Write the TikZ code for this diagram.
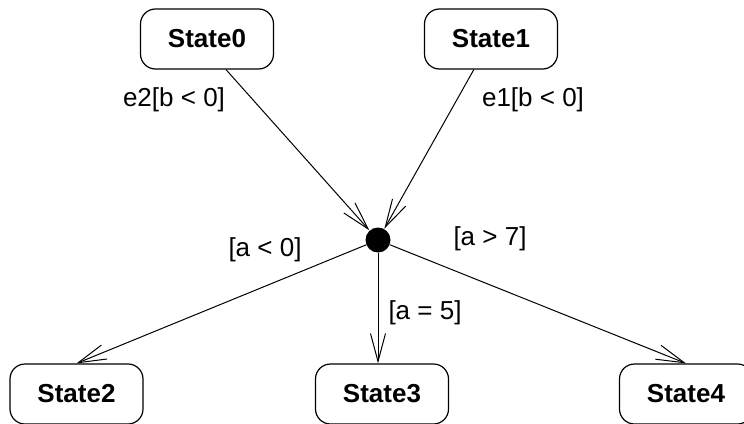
\documentclass[tikz,border=0pt]{standalone}
\usepackage{fontspec}
\setmainfont{Liberation Sans}
\usetikzlibrary{arrows.meta}
\tikzset{
  state/.style={draw, rounded corners=15pt, minimum width=133pt, minimum height=60pt,
    line width=1.2pt, font=\fontsize{26}{31}\selectfont\bfseries},
  guard/.style={font=\fontsize{26}{31}\selectfont},
  junction/.style={circle, fill, inner sep=0pt, minimum size=25pt}
}

\begin{document}
\begin{tikzpicture}[x=1pt, y=-1pt, line width=1pt, >={Straight Barb[length=28pt,width=15pt]}]
  \useasboundingbox (0,0) rectangle (744,423);
  \node[state] (s0) at (207,39) {State0};
  \node[state] (s1) at (491,39) {State1};
  \node[junction] (junc) at (378,240) {};
  \foreach \n/\x in {2/76.5,3/382,4/686}{
    \node[state] (s\n) at (\x,394) {State\n};
  }

  \draw[->] ([xshift=19pt]s0.south) -- (junc);
  \draw[->] (s1) -- (junc);
  \draw[->] (junc) -- (s2.north);
  \draw[->] (junc) -- (junc |- s3.north);
  \draw[->] (junc) -- (s4.north);

  \node[guard] (g0) at (174,100) {e2[b < 0]};
  \node[guard] (g1) at (533,100) {e1[b < 0]};
  \node[guard] (g2) at (265,250) {[a < 0]};
  \node[guard] (g3) at (425,313) {[a = 5]};
  \node[guard] (g4) at (490,239) {[a > 7]};
\end{tikzpicture}
\end{document}
